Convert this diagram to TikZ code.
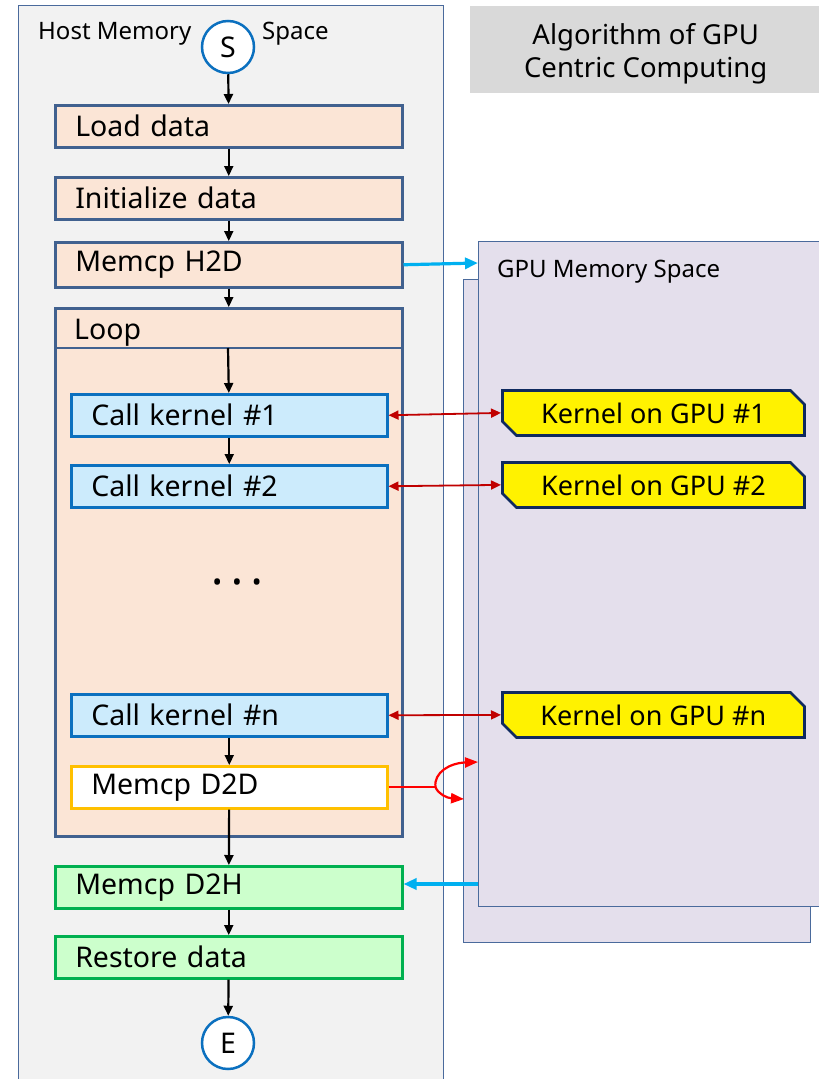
\documentclass[tikz,border=0pt]{standalone}
\usepackage{fontspec}
\setmainfont{Noto Sans}
\usetikzlibrary{shapes.misc,arrows.meta}
\definecolor{hostfill}{HTML}{F2F2F2}
\definecolor{frameblue}{HTML}{4A6A9C}
\definecolor{peach}{HTML}{FBE5D6}
\definecolor{peachline}{HTML}{41618F}
\definecolor{callfill}{HTML}{CCEBFC}
\definecolor{callline}{HTML}{0B70BF}
\definecolor{goldline}{HTML}{FFC000}
\definecolor{greenfill}{HTML}{CCFFCC}
\definecolor{greenline}{HTML}{00B050}
\definecolor{gpufill}{HTML}{E4DFEC}
\definecolor{kernline}{HTML}{0F2A5F}
\definecolor{titlegray}{HTML}{D9D9D9}
\definecolor{cyanarrow}{HTML}{00B0F0}
\definecolor{darkred}{HTML}{C00000}
\definecolor{circline}{HTML}{0B70BF}
\tikzset{
  flowarrow/.style={draw=black, line width=2.2pt, -{Triangle[length=10pt,width=9pt]}},
  boxfont/.style={font=\fontsize{28.5}{32}\selectfont},
  hostbox/.style={draw=peachline, fill=peach, line width=2.5pt, anchor=north west,
    minimum width=347, minimum height=42, text width=307, inner xsep=20, inner ysep=0,
    align=left, boxfont},
  greenbox/.style={hostbox, draw=greenline, fill=greenfill},
  callbox/.style={draw=callline, fill=callfill, line width=2.5pt, anchor=north west,
    minimum width=316, minimum height=42, text width=276, inner xsep=20, inner ysep=0,
    align=left, boxfont},
  d2dbox/.style={callbox, draw=goldline, fill=white},
  kernbox/.style={chamfered rectangle, chamfered rectangle corners={north east, south west},
    chamfered rectangle xsep=7pt, chamfered rectangle ysep=7pt,
    draw=kernline, fill=yellow, line width=2.8pt, anchor=north west,
    minimum width=302, minimum height=45, inner sep=0, font=\fontsize{27}{30}\selectfont},
  endcircle/.style={circle, draw=circline, fill=white, line width=2.5pt, minimum size=52, inner sep=0,
    boxfont},
  redlink/.style={draw=darkred, line width=1.8pt, {Triangle[length=10pt,width=9pt]}-{Triangle[length=10pt,width=9pt]}},
  bluelink/.style={draw=cyanarrow, line width=3.2pt, -{Triangle[length=13pt,width=11pt]}},
  d2darrow/.style={draw=red, line width=2.2pt, -{Triangle[length=13pt,width=10pt]}},
  gpuframe/.style={draw=frameblue, fill=gpufill, line width=1.4pt, anchor=north west, inner sep=0},
}
\begin{document}
\begin{tikzpicture}[x=1pt,y=-1pt]
\useasboundingbox (0,0) rectangle (819,1079);
\clip (0,0) rectangle (819,1079);

% host memory frame
\node[draw=frameblue, fill=hostfill, line width=1.3pt, anchor=north west, inner sep=0,
  minimum width=425, minimum height=1100] (host) at (18,5) {};
\node[anchor=base west, inner sep=0, font=\fontsize{24}{28}\selectfont] (hostlabA) at (38,39) {Host Memory};
\node[anchor=base west, inner sep=0, font=\fontsize{24}{28}\selectfont] (hostlabB) at (262,39) {Space};

% title
\node[fill=titlegray, anchor=north west, minimum width=349, minimum height=87, inner sep=0] (title) at (470,6) {};
\node[inner sep=0, align=center, font=\fontsize{27.5}{33}\selectfont] (titletext) at ([xshift=1pt,yshift=-4pt]title.center) {Algorithm of GPU\\Centric Computing};

% GPU memory frames
\node[gpuframe, minimum width=347, minimum height=663] (gpuback) at (463,279) {};
\node[gpuframe, minimum width=345, minimum height=665] (gpufront) at (478,241) {};
\node[anchor=base west, inner sep=0, font=\fontsize{24}{28}\selectfont] (gpulab) at (497,277) {GPU Memory Space};

% flow boxes
\node[endcircle] (S) at (228,47) {S};
\node[hostbox] (load) at (54,104) {Load data};
\node[hostbox] (init) at (54,176) {Initialize data};
\node[hostbox, minimum height=45] (h2d) at (54,241) {Memcp H2D};
\node[hostbox, minimum height=528] (loop) at (54,307) {};
\node[anchor=base west, inner sep=0, boxfont] (looplab) at (74,339) {Loop};
\coordinate (loopdivL) at (54,348);
\coordinate (loopdivR) at (401,348);
\draw[draw=peachline, line width=2.5pt] (loopdivL) -- (loopdivR);
\coordinate (loophead) at (228,348);

\node[callbox] (k1) at (70,393) {Call kernel \#1};
\node[callbox] (k2) at (70,464) {Call kernel \#2};
\node[inner sep=0, font=\fontsize{26}{30}\selectfont] (dots) at (237,585) {\textbullet\hspace{10pt}\textbullet\hspace{10pt}\textbullet};
\node[callbox] (kn) at (70,693) {Call kernel \#n};
\node[d2dbox] (d2d) at (70,765) {Memcp D2D};

\node[greenbox] (d2h) at (54,865) {Memcp D2H};
\node[greenbox] (restore) at (54,935) {Restore data};
\node[endcircle] (E) at (228,1043) {E};

% GPU kernels
\node[kernbox] (g1) at (501,389) {Kernel on GPU \#1};
\node[kernbox] (g2) at (501,461) {Kernel on GPU \#2};
\node[kernbox] (gn) at (501,691) {Kernel on GPU \#n};

% flow arrows
\draw[flowarrow] (S) -- (load);
\draw[flowarrow] (load) -- (init);
\draw[flowarrow] (init) -- (h2d);
\draw[flowarrow] (h2d) -- (loop.north);
\draw[flowarrow] (loophead) -- (k1);
\draw[flowarrow] (k1) -- (k2);
\draw[flowarrow] (kn) -- (d2d);
\draw[flowarrow] (d2d) -- (d2h);
\draw[flowarrow] (d2h) -- (restore);
\draw[flowarrow] (restore) -- (E);

% kernel links
\draw[redlink] (k1.east) -- (g1.west);
\draw[redlink] (k2.east) -- (g2.west);
\draw[redlink] (kn.east) -- (gn.west);

% memory copies
\coordinate (h2dtip) at (478,263);
\draw[bluelink] (h2d.east) -- (h2dtip);
\coordinate (d2hsrc) at (478,884);
\draw[bluelink] (d2hsrc) -- (d2h.east |- d2hsrc);

% D2D split
\coordinate (split) at ([xshift=47pt]d2d.east);
\coordinate (d2dup) at (478,762);
\coordinate (d2ddown) at (464,799);
\draw[draw=red, line width=2.2pt] (d2d.east) -- (split);
\draw[d2darrow] (split) .. controls ++(-2,-15) and (450,763) .. (d2dup);
\draw[d2darrow] (split) .. controls ++(3,7) and (447,798) .. (d2ddown);
\end{tikzpicture}
\end{document}
